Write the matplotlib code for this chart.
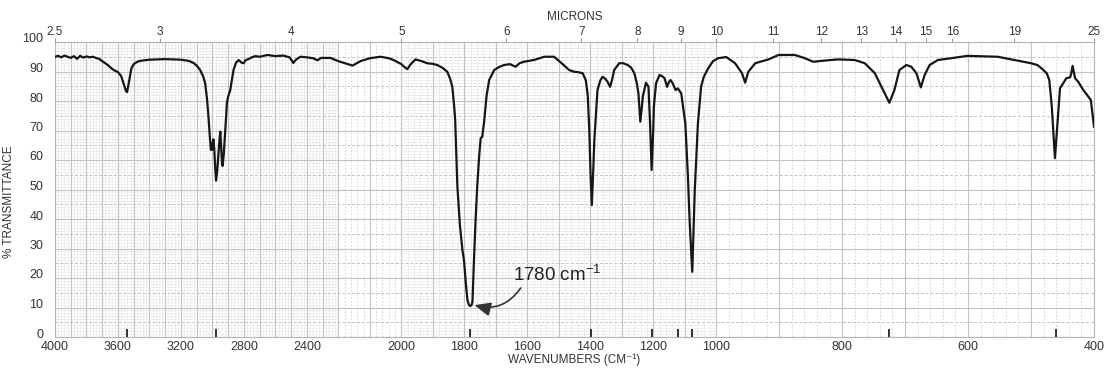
import numpy as np
import matplotlib
matplotlib.use("Agg")
import matplotlib.pyplot as plt
from matplotlib import transforms

plt.rcParams['font.family'] = ['Liberation Sans', 'DejaVu Sans']
plt.rcParams['mathtext.default'] = 'regular'

# ---------------- data ----------------
wavenumbers = [
    4000, 3980, 3960, 3940, 3920, 3900, 3880, 3860, 3840, 3820, 3800, 3780, 3760, 3740,
    3720, 3700, 3680, 3660, 3640, 3620, 3600, 3580, 3565, 3550, 3542, 3530, 3515, 3500,
    3480, 3460, 3400, 3300, 3200, 3150, 3120, 3100, 3078, 3060, 3046, 3035, 3027, 3018,
    3010, 3003, 2998, 2993, 2988, 2982, 2977, 2970, 2962, 2955, 2950, 2945, 2939, 2935,
    2928, 2922, 2915, 2908, 2900, 2887, 2875, 2866, 2850, 2834, 2815, 2802, 2790, 2772,
    2750, 2728, 2700, 2650, 2600, 2550, 2510, 2486, 2470, 2441, 2400, 2360, 2333, 2310,
    2250, 2200, 2170, 2155, 2130, 2100, 2066, 2040, 2025, 2000, 1990, 1981, 1970, 1955,
    1935, 1918, 1900, 1886, 1870, 1854, 1845, 1838, 1832, 1829, 1822, 1814, 1806, 1801,
    1795, 1790, 1785, 1781, 1777, 1774, 1769, 1764, 1759, 1753, 1748, 1743, 1737, 1729,
    1721, 1705, 1690, 1674, 1655, 1637, 1625, 1611, 1579, 1546, 1515, 1493, 1467, 1451,
    1440, 1424, 1414, 1408, 1403, 1399, 1395, 1391, 1387, 1377, 1368, 1361, 1352, 1345,
    1337, 1330, 1324, 1308, 1295, 1281, 1270, 1260, 1252, 1247, 1241, 1236, 1233, 1223,
    1215, 1210, 1205, 1200, 1198, 1191, 1180, 1170, 1164, 1156, 1150, 1145, 1138, 1129,
    1122, 1111, 1098, 1090, 1084, 1076, 1068, 1058, 1048, 1040, 1026, 1010, 997, 984,
    970, 959, 954, 949, 938, 917, 901, 875, 859, 846, 828, 807, 780, 764,
    748, 735, 725, 717, 709, 698, 690, 682, 675, 669, 661, 648, 627, 601,
    553, 527, 512, 500, 490, 483, 475, 471, 467, 462, 458, 454, 449, 444,
    438, 436, 434, 430, 425, 417, 409, 405, 400,
]
transmittance = [
    95.0, 95.3, 94.8, 95.4, 95.0, 94.6, 95.2, 94.3, 95.3, 94.7, 95.1, 94.8, 95.0, 94.6,
    94.3, 93.5, 92.8, 92.0, 91.0, 90.3, 89.8, 88.5, 86.0, 83.5, 83.0, 86.5, 91.0, 92.5,
    93.2, 93.6, 94.0, 94.2, 94.0, 93.6, 92.9, 92.0, 90.5, 88.5, 86.0, 81.0, 76.0, 69.0,
    63.5, 63.4, 66.0, 67.0, 63.4, 57.0, 53.0, 56.0, 62.0, 67.0, 69.6, 65.0, 58.5, 58.0,
    62.0, 67.0, 73.0, 79.3, 81.5, 83.7, 87.5, 90.5, 93.0, 93.9, 93.0, 92.8, 93.8, 94.2,
    94.8, 95.2, 95.0, 95.6, 95.2, 95.4, 94.8, 92.9, 94.0, 95.0, 94.8, 94.5, 93.8, 94.6,
    94.6, 93.5, 92.5, 92.0, 93.5, 94.5, 95.0, 94.5, 93.9, 92.5, 91.5, 90.8, 92.5, 94.1,
    93.5, 92.8, 92.6, 92.2, 91.3, 89.9, 87.5, 84.8, 78.0, 73.6, 51.0, 38.0, 29.5, 26.0,
    18.0, 12.5, 10.8, 10.5, 10.8, 12.0, 27.0, 40.0, 51.0, 61.0, 67.4, 67.9, 73.0, 82.0,
    87.1, 90.5, 91.5, 92.2, 92.5, 91.6, 92.8, 93.3, 93.9, 95.0, 95.0, 93.0, 90.5, 89.9,
    89.8, 89.4, 87.0, 82.0, 70.0, 55.0, 44.7, 55.0, 66.8, 83.7, 87.0, 88.2, 87.5, 86.5,
    84.8, 87.5, 90.5, 92.8, 92.8, 92.2, 91.3, 89.4, 86.0, 82.6, 73.0, 78.0, 81.5, 86.2,
    84.8, 72.5, 56.6, 70.0, 78.0, 86.0, 88.8, 88.3, 87.7, 84.8, 86.5, 87.1, 86.0, 83.7,
    84.3, 82.6, 72.4, 55.0, 38.5, 22.1, 49.8, 72.4, 84.8, 88.0, 91.0, 93.5, 94.5, 94.9,
    92.8, 89.4, 86.2, 89.9, 92.8, 94.1, 95.6, 95.6, 94.5, 93.3, 93.7, 94.1, 93.9, 92.8,
    89.4, 83.7, 79.4, 83.7, 90.5, 92.2, 91.6, 89.4, 84.6, 88.8, 92.2, 93.9, 94.5, 95.3,
    95.0, 93.9, 93.3, 92.8, 92.2, 91.0, 89.4, 87.1, 78.0, 60.6, 72.4, 84.3, 86.0, 87.7,
    88.0, 89.4, 91.9, 87.7, 86.5, 83.7, 81.5, 80.3, 71.3,
]
wavenumber_ticks = [4000, 3600, 3200, 2800, 2400, 2000, 1800, 1600, 1400, 1200, 1000, 800, 600, 400]
micron_ticks = [2.5, 3, 4, 5, 6, 7, 8, 9, 10, 11, 12, 13, 14, 15, 16, 19, 25]
micron_labels = ['2.5', '3', '4', '5', '6', '7', '8', '9', '10', '11', '12', '13', '14', '15', '16', '19', '25']
transmittance_ticks = [0, 10, 20, 30, 40, 50, 60, 70, 80, 90, 100]
peak_marks = [3545, 2975, 1782, 1398, 1203, 1120, 1076, 726, 461]
annotated_peak = 1780


# ---------------- piecewise-linear IR wavenumber scale ----------------
def fwd(w):
    w = np.asarray(w, dtype=float)
    return np.where(w < 1000, 4 * (w - 400),
                    np.where(w < 2200, 2400 + 2 * (w - 1000), 4800 + (w - 2200)))


def inv(p):
    p = np.asarray(p, dtype=float)
    return np.where(p < 2400, 400 + p / 4,
                    np.where(p < 4800, 1000 + (p - 2400) / 2, 2200 + (p - 4800)))


TXT = '#333333'
GRID = '#c2c2c2'
GRID_MINOR = '#d0d0d0'

fig = plt.figure(figsize=(11.04, 3.68), dpi=100)
ax = fig.add_axes([55 / 1104, 1 - 337 / 368, 1039 / 1104, 295 / 368])
ax.set_xscale('function', functions=(fwd, inv))
ax.set_xlim(4000, 400)
ax.set_ylim(0, 100)

# ---- chart-paper grid ----
for w in range(400, 4001, 100):
    ax.axvline(w, color=GRID, lw=0.8, zorder=1)
for w in range(420, 4000, 20):
    if w % 100 == 0:
        continue
    if 2000 <= w <= 2200 or w < 1000:
        ax.axvline(w, color=GRID_MINOR, lw=0.6, ls=(0, (2, 2.2)), zorder=1)
    else:
        ax.axvline(w, color=GRID_MINOR, lw=0.5, ls=(0, (1, 1.3)), zorder=1)
for t in range(0, 101, 10):
    ax.axhline(t, color=GRID, lw=0.8, zorder=1)
for t in range(5, 100, 10):
    ax.axhline(t, color=GRID, lw=0.7, ls=(0, (3, 2)), zorder=1)
for t in range(1, 100):
    if t % 5 == 0:
        continue
    ax.hlines(t, 2200, 4000, color=GRID_MINOR, lw=0.5, ls=(0, (1, 1.3)), zorder=1)
    ax.hlines(t, 1000, 2000, color=GRID_MINOR, lw=0.5, ls=(0, (1, 1.3)), zorder=1)

# ---- spectrum ----
ax.plot(wavenumbers, transmittance, color='#161616', lw=1.6, zorder=4,
        solid_joinstyle='round')
ax.vlines(peak_marks, 0, 2.6, color='#222222', lw=1.3, zorder=3)

# ---- annotation ----
ax.text(1646, 19.0, '1780 cm$^{-1}$', fontsize=13.5, color='#222222',
        ha='left', va='baseline', zorder=5)
ax.annotate('', xy=(annotated_peak - 12, 10.8), xytext=(1621, 16.6),
            arrowprops=dict(arrowstyle='-|>,head_length=0.7,head_width=0.3',
                            connectionstyle='arc3,rad=-0.35', color='#333333',
                            lw=1.2, shrinkA=0, shrinkB=0, mutation_scale=14),
            zorder=5)

# ---- axes styling ----
ax.set_xticks(wavenumber_ticks)
ax.set_xticklabels([str(t) for t in wavenumber_ticks])
ax.xaxis.set_minor_locator(matplotlib.ticker.NullLocator())
ax.set_yticks(transmittance_ticks)
ax.set_yticklabels([str(t) for t in transmittance_ticks])
ax.tick_params(axis='x', length=0, pad=3, labelsize=9, labelcolor=TXT)
ax.tick_params(axis='y', length=0, pad=8.5, labelsize=9, labelcolor=TXT)
for lab in ax.get_yticklabels():
    lab.set_transform(lab.get_transform() +
                      transforms.ScaledTranslation(0, 0.04, fig.dpi_scale_trans))
ax.set_xlabel('WAVENUMBERS (CM\u207b\u00b9)', fontsize=8.5, color=TXT, labelpad=0.5)
ax.set_ylabel('% TRANSMITTANCE', fontsize=8.5, color=TXT)
ax.yaxis.set_label_coords(-0.0385, 0.46)
for s in ax.spines.values():
    s.set_color('#b5b5b5')
    s.set_linewidth(0.8)

# ---- top micron axis ----
ax2 = ax.twiny()
ax2.set_xscale('function', functions=(fwd, inv))
ax2.set_xlim(4000, 400)
ax2.set_xticks([10000.0 / m for m in micron_ticks])
ax2.set_xticklabels(micron_labels)
ax2.xaxis.set_minor_locator(matplotlib.ticker.NullLocator())
ax2.tick_params(axis='x', direction='out', length=3, width=0.8, color='#999999',
                pad=0, labelsize=8.5, labelcolor=TXT)
ax2.set_xlabel('MICRONS', fontsize=8.5, color=TXT, labelpad=4)
for s in ax2.spines.values():
    s.set_visible(False)

fig.savefig('out.png', dpi=100)
